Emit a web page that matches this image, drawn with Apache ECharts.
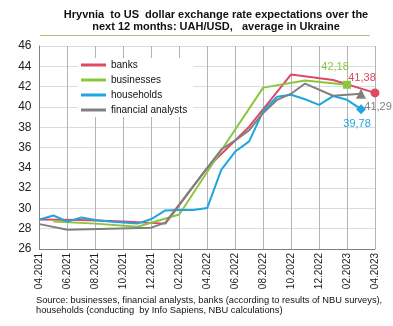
<!DOCTYPE html>
<html>
<head>
<meta charset="utf-8">
<script src="https://cdn.jsdelivr.net/npm/echarts@6/dist/echarts.min.js"></script>
<style>
  html, body { margin: 0; padding: 0; background: #ffffff; }
  #chart { width: 393px; height: 326px; }
</style>
</head>
<body>
<div id="chart"></div>
<script>
// Monthly categories, 04.2021 .. 04.2023
const months = [
  '04.2021','05.2021','06.2021','07.2021','08.2021','09.2021','10.2021','11.2021','12.2021',
  '01.2022','02.2022','03.2022','04.2022','05.2022','06.2022','07.2022','08.2022','09.2022',
  '10.2022','11.2022','12.2022','01.2023','02.2023','03.2023','04.2023'
];

// Expected UAH/USD rate in 12 months; null = no survey that month
const banks = [
  28.9, null, null, 28.85, null, null, 28.7, null, null,
  28.5, null, null, 34.0, null, null, 38.05, null, null,
  43.2, null, null, 42.65, null, null, 41.38
];
const businesses = [
  null, 28.7, null, null, 28.5, null, null, 28.2, null,
  null, 29.4, null, null, 35.7, null, null, 41.9, null,
  null, 42.6, null, null, 42.18, null, null
];
const households = [
  28.9, 29.3, 28.7, 29.1, 28.85, 28.7, 28.6, 28.5, 28.95,
  29.8, 29.85, 29.85, 30.05, 33.8, 35.6, 36.6, 39.6, 41.0,
  41.2, 40.75, 40.2, 41.07, 40.7, 39.78, null
];
const analysts = [
  28.45, null, 27.9, null, null, null, null, null, 28.1,
  28.6, null, null, null, 35.8, 36.7, 37.7, 39.4, 40.7,
  41.3, 42.3, null, 41.1, null, 41.29, null
];

const yTicks = { min: 26, max: 46, step: 2 };

const FONT = 'Liberation Sans, Arial, sans-serif';

// Mark only the latest observation of a series and print its value
function withEndMarker(values, symbol, size, color, offset) {
  let last = -1;
  values.forEach((v, i) => { if (v !== null) last = i; });
  return values.map((v, i) => {
    if (i !== last) return v;
    return {
      value: v,
      symbol: symbol,
      symbolSize: size,
      label: {
        show: true,
        position: 'inside',
        offset: offset,
        color: color,
        fontSize: 11,
        fontFamily: FONT,
        formatter: p => p.value.toFixed(2).replace('.', ',')
      }
    };
  });
}

function lineSeries(name, values, color, symbol, size, offset) {
  return {
    name: name,
    type: 'line',
    data: withEndMarker(values, symbol, size, color, offset),
    connectNulls: true,
    symbol: 'none',
    showSymbol: true,
    itemStyle: { color: color },
    lineStyle: { color: color, width: 2 },
    emphasis: { disabled: true },
    animation: false
  };
}

const chart = echarts.init(document.getElementById('chart'), null, { renderer: 'canvas' });

chart.setOption({
  backgroundColor: '#ffffff',
  animation: false,
  grid: { left: 39.5, right: 18, top: 46, bottom: 77, containLabel: false },
  legend: {
    orient: 'vertical',
    left: 78,
    top: 58,
    padding: [2, 6, 2, 3],
    backgroundColor: '#ffffff',
    icon: 'rect',
    itemWidth: 25,
    itemHeight: 3,
    itemGap: 5,
    textStyle: { fontSize: 10, fontFamily: FONT, color: '#111111' },
    data: ['banks', 'businesses', 'households', 'financial analysts']
  },
  xAxis: {
    type: 'category',
    data: months,
    boundaryGap: false,
    axisLine: { lineStyle: { color: '#808080', width: 1 } },
    axisTick: { show: false },
    axisLabel: {
      interval: 1,
      rotate: 90,
      fontSize: 10,
      fontFamily: FONT,
      color: '#222222',
      margin: 4
    },
    splitLine: { show: true, interval: 1, lineStyle: { color: '#b4b4b4', width: 1 } }
  },
  yAxis: {
    type: 'value',
    min: yTicks.min,
    max: yTicks.max,
    interval: yTicks.step,
    axisLine: { show: true, lineStyle: { color: '#808080', width: 1 } },
    axisTick: { show: false },
    axisLabel: { fontSize: 12, fontFamily: FONT, color: '#222222', margin: 8 },
    splitLine: { show: true, lineStyle: { color: '#dcdcdc', width: 1 } }
  },
  series: [
    lineSeries('banks', banks, '#dc4a66', 'circle', 9, [-13, -15]),
    lineSeries('businesses', businesses, '#8cc63f', 'rect', 8, [-12, -18]),
    lineSeries('households', households, '#1fa6de', 'diamond', 10, [-4, 15]),
    lineSeries('financial analysts', analysts, '#808080', 'triangle', 10, [17, 13])
  ],
  graphic: [
    {
      type: 'text',
      style: {
        text: 'Hryvnia  to US  dollar exchange rate expectations over the\nnext 12 months: UAH/USD,   average in Ukraine',
        x: 216, y: 9,
        align: 'center',
        verticalAlign: 'top',
        font: 'bold 11px ' + FONT,
        lineHeight: 12,
        fill: '#111111'
      }
    },
    {
      type: 'line',
      shape: { x1: 40, y1: 35.5, x2: 370, y2: 35.5 },
      style: { stroke: '#a9c47f', lineWidth: 1 }
    },
    {
      type: 'text',
      style: {
        text: 'Source: businesses, financial analysts, banks (according to results of NBU surveys),\nhouseholds (conducting  by Info Sapiens, NBU calculations)',
        x: 36, y: 295,
        verticalAlign: 'top',
        font: '9.3px ' + FONT,
        lineHeight: 10,
        fill: '#111111'
      }
    }
  ]
});
</script>
</body>
</html>
